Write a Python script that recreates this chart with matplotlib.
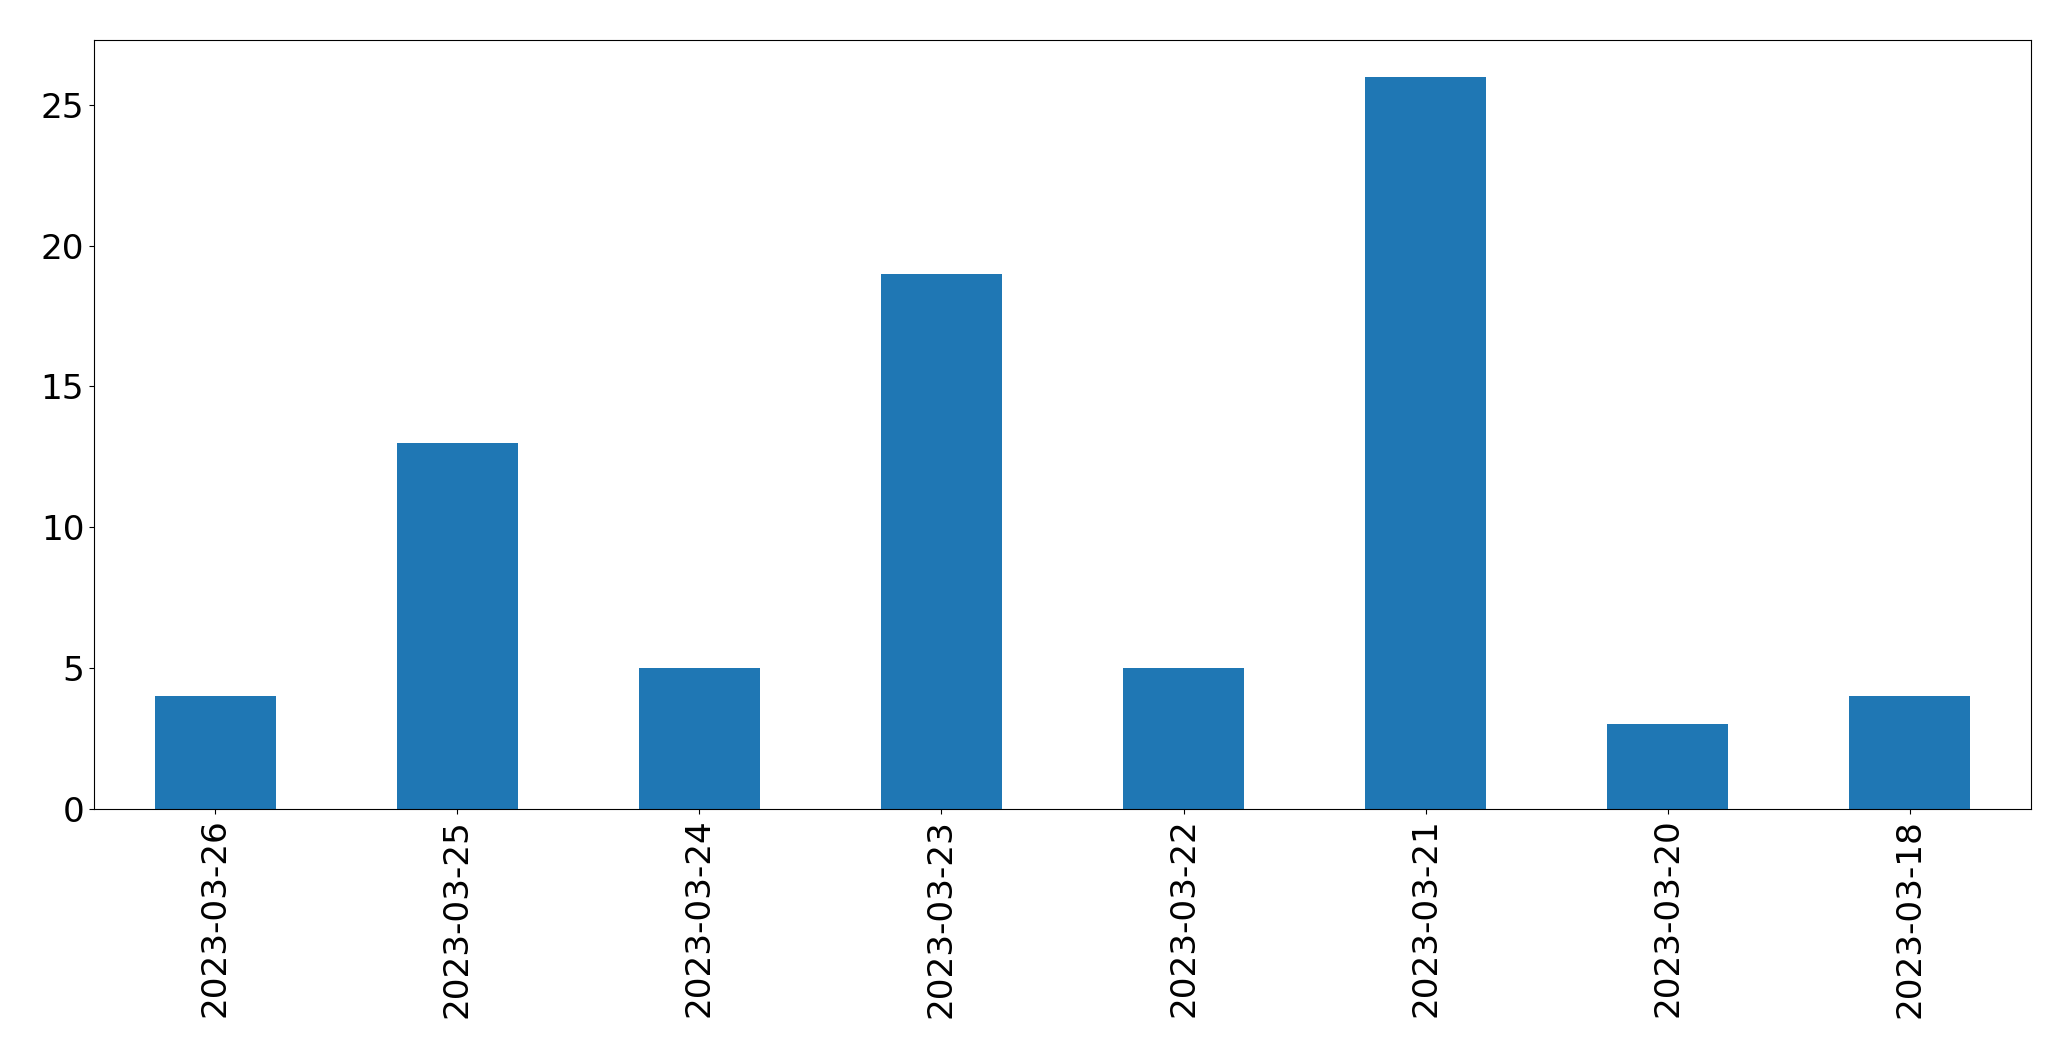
import matplotlib
matplotlib.use("Agg")
import matplotlib.pyplot as plt
import pandas as pd

dates = ["2023-03-26", "2023-03-25", "2023-03-24", "2023-03-23",
         "2023-03-22", "2023-03-21", "2023-03-20", "2023-03-18"]
counts = [4, 13, 5, 19, 5, 26, 3, 4]

W, H = 2071, 1061
fig = plt.figure(figsize=(W / 100, H / 100), dpi=100)
ax = fig.add_axes([94 / W, 1 - 809 / H, (2031 - 94) / W, (809 - 40) / H])
s = pd.Series(counts, index=dates)
s.plot(kind="bar", ax=ax, color="#1f77b4", width=0.5)
ax.tick_params(axis="both", labelsize=24.7)
ax.set_ylim(0, 27.3)
fig.savefig("out.png", dpi=100)
